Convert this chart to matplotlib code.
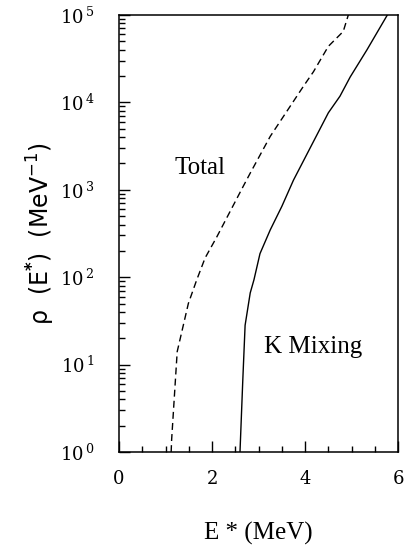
import matplotlib.pyplot as plt
from matplotlib.ticker import FixedLocator, MultipleLocator, LogLocator, NullFormatter

# Total level density (dashed)
total_e = [1.12, 1.13, 1.25, 1.49, 1.67, 1.85, 2.10, 2.67, 2.82, 3.25, 3.96, 4.18, 4.50, 4.82, 4.93]
total_rho = [1.0, 1.38, 14.1, 50.1, 93.3, 166, 288, 1096, 1549, 4074, 15136, 22387, 43652, 64565, 100000]

# K mixing level density (solid)
kmix_e = [2.60, 2.66, 2.71, 2.82, 2.90, 3.03, 3.25, 3.50, 3.75, 4.50, 4.75, 4.97, 5.33, 5.77]
kmix_rho = [1.0, 6.6, 28.2, 66.1, 93.3, 186, 347, 646, 1288, 7586, 11749, 19498, 39811, 100000]

x_ticks = [0, 2, 4, 6]
y_ticks = [1, 10, 100, 1000, 10000, 100000]

fig = plt.figure(figsize=(4.05, 5.5), dpi=100)
ax = fig.add_axes([0.294, 0.178, 0.689, 0.795])

ax.plot(total_e, total_rho, color='black', lw=1.0, dashes=(5, 3))
ax.plot(kmix_e, kmix_rho, color='black', lw=1.0)

ax.set_yscale('log')
ax.set_xlim(0, 6)
ax.set_ylim(1, 1e5)

ax.xaxis.set_major_locator(FixedLocator(x_ticks))
ax.xaxis.set_minor_locator(MultipleLocator(0.5))
ax.yaxis.set_major_locator(FixedLocator(y_ticks))
ax.yaxis.set_minor_locator(LogLocator(base=10, subs=range(2, 10), numticks=20))
ax.yaxis.set_minor_formatter(NullFormatter())

ax.set_xticklabels([str(t) for t in x_ticks], family='DejaVu Serif', fontsize=13)
ax.set_yticklabels([r'$10^{\,%d}$' % i for i in range(6)], fontsize=13,
                   math_fontfamily='dejavuserif')

ax.tick_params(which='both', direction='in', top=False, right=False, width=1.0)
ax.tick_params(which='major', length=8)
ax.tick_params(which='minor', length=4)
ax.tick_params(axis='x', pad=13)
ax.tick_params(axis='y', pad=18)

for s in ax.spines.values():
    s.set_linewidth(1.1)

ax.text(1.74, 1780, 'Total', family='Liberation Serif', fontsize=18,
        ha='center', va='center')
ax.text(4.17, 16, 'K Mixing', family='Liberation Serif', fontsize=18,
        ha='center', va='center')

ax.set_xlabel('E * (MeV)', family='Liberation Serif', fontsize=18, labelpad=24)
ax.set_ylabel(r'$\mathrm{\rho}$  (E$^{\mathbf{*}}$)  (MeV$^{-1}$)', family='DejaVu Sans',
              fontsize=17, math_fontfamily='dejavusans', labelpad=2)

fig.savefig('out.png', dpi=100)
